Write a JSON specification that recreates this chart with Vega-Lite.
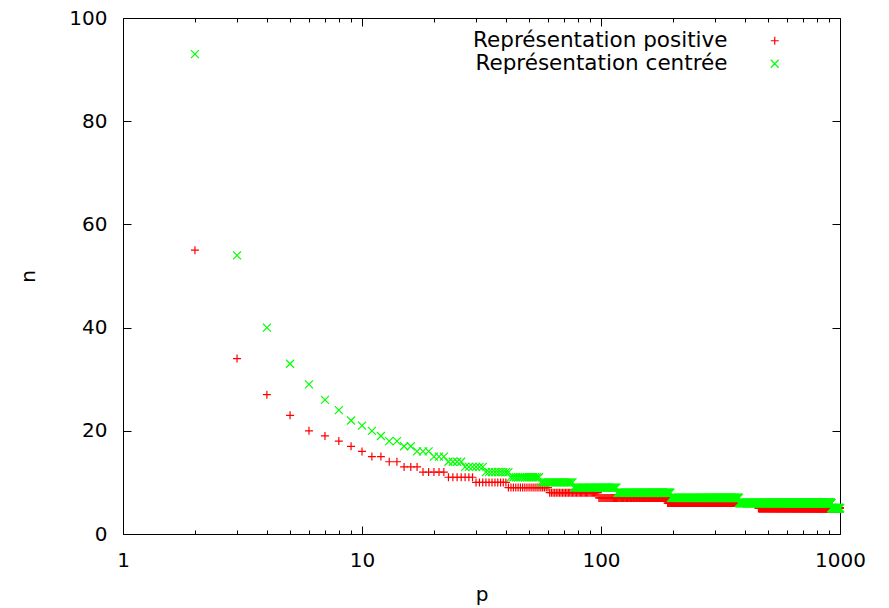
{
"$schema":"https://vega.github.io/schema/vega-lite/v6.json",
"width":717,"height":516,
"autosize":{"type":"none"},
"padding":{"left":123,"top":18,"right":49,"bottom":74},
"background":"white",
"config":{
"view":{"stroke":"black","strokeWidth":1},
"font":"DejaVu Sans",
"axis":{"labelFont":"DejaVu Sans","labelFontSize":20,"labelColor":"black","titleFont":"DejaVu Sans","titleFontSize":20,"titleFontWeight":"normal","titleColor":"black","domain":false,"grid":false,"tickColor":"black","tickWidth":1,"labelFlush":false,"labelOverlap":false,"labelBound":false},
"legend":{"orient":"none","legendX":641,"legendY":12,"labelAlign":"right","labelOffset":-58,"labelFont":"DejaVu Sans","labelFontSize":21.5,"labelColor":"black","labelLimit":500,"symbolSize":64,"symbolStrokeWidth":1.2,"rowPadding":0,"padding":0,"title":null}
},
"data":{"values":[
{"p":2,"a":55,"b":93},{"p":3,"a":34,"b":54},{"p":4,"a":27,"b":40},{"p":5,"a":23,"b":33},{"p":6,"a":20,"b":29},{"p":7,"a":19,"b":26},{"p":8,"a":18,"b":24},{"p":9,"a":17,"b":22},{"p":10,"a":16,"b":21},{"p":11,"a":15,"b":20},{"p":12,"a":15,"b":19},{"p":13,"a":14,"b":18},{"p":14,"a":14,"b":18},{"p":15,"a":13,"b":17},{"p":16,"a":13,"b":17},{"p":17,"a":13,"b":16},{"p":18,"a":12,"b":16},{"p":19,"a":12,"b":16},{"p":20,"a":12,"b":15},{"p":21,"a":12,"b":15},{"p":22,"a":12,"b":15},
{"p":23,"a":11,"b":14},{"p":24,"a":11,"b":14},{"p":25,"a":11,"b":14},{"p":26,"a":11,"b":14},
{"p":27,"a":11,"b":13},{"p":28,"a":11,"b":13},{"p":29,"a":11,"b":13},
{"p":30,"a":10,"b":13},{"p":31,"a":10,"b":13},{"p":32,"a":10,"b":13},
{"p":33,"a":10,"b":12},{"p":34,"a":10,"b":12},{"p":35,"a":10,"b":12},{"p":36,"a":10,"b":12},{"p":37,"a":10,"b":12},{"p":38,"a":10,"b":12},{"p":39,"a":10,"b":12},{"p":40,"a":10,"b":12},
{"p":41,"a":9,"b":12},
{"p":42,"a":9,"b":11},{"p":43,"a":9,"b":11},{"p":44,"a":9,"b":11},{"p":45,"a":9,"b":11},{"p":46,"a":9,"b":11},{"p":47,"a":9,"b":11},{"p":48,"a":9,"b":11},{"p":49,"a":9,"b":11},{"p":50,"a":9,"b":11},{"p":51,"a":9,"b":11},{"p":52,"a":9,"b":11},{"p":53,"a":9,"b":11},{"p":54,"a":9,"b":11},{"p":55,"a":9,"b":11},
{"p":56,"a":9,"b":10},{"p":57,"a":9,"b":10},{"p":58,"a":9,"b":10},{"p":59,"a":9,"b":10},{"p":60,"a":9,"b":10},
{"p":61,"a":8,"b":10},{"p":62,"a":8,"b":10},{"p":63,"a":8,"b":10},{"p":64,"a":8,"b":10},{"p":65,"a":8,"b":10},{"p":66,"a":8,"b":10},{"p":67,"a":8,"b":10},{"p":68,"a":8,"b":10},{"p":69,"a":8,"b":10},{"p":70,"a":8,"b":10},{"p":71,"a":8,"b":10},{"p":72,"a":8,"b":10},{"p":73,"a":8,"b":10},{"p":74,"a":8,"b":10},{"p":75,"a":8,"b":10},{"p":76,"a":8,"b":10},
{"p":77,"a":8,"b":9},{"p":78,"a":8,"b":9},{"p":79,"a":8,"b":9},{"p":80,"a":8,"b":9},{"p":81,"a":8,"b":9},{"p":82,"a":8,"b":9},{"p":83,"a":8,"b":9},{"p":84,"a":8,"b":9},{"p":85,"a":8,"b":9},{"p":86,"a":8,"b":9},{"p":87,"a":8,"b":9},{"p":88,"a":8,"b":9},{"p":89,"a":8,"b":9},{"p":90,"a":8,"b":9},{"p":91,"a":8,"b":9},{"p":92,"a":8,"b":9},{"p":93,"a":8,"b":9},{"p":94,"a":8,"b":9},{"p":95,"a":8,"b":9},{"p":96,"a":8,"b":9},{"p":97,"a":8,"b":9},
{"p":98,"a":7,"b":9},{"p":99,"a":7,"b":9},{"p":100,"a":7,"b":9},{"p":101,"a":7,"b":9},{"p":102,"a":7,"b":9},{"p":103,"a":7,"b":9},{"p":104,"a":7,"b":9},{"p":105,"a":7,"b":9},{"p":106,"a":7,"b":9},{"p":107,"a":7,"b":9},{"p":108,"a":7,"b":9},{"p":109,"a":7,"b":9},{"p":110,"a":7,"b":9},{"p":111,"a":7,"b":9},{"p":112,"a":7,"b":9},{"p":113,"a":7,"b":9},{"p":114,"a":7,"b":9},{"p":115,"a":7,"b":9},{"p":116,"a":7,"b":9},
{"p":117,"a":7,"b":8},{"p":118,"a":7,"b":8},{"p":119,"a":7,"b":8},{"p":120,"a":7,"b":8},{"p":121,"a":7,"b":8},{"p":122,"a":7,"b":8},{"p":123,"a":7,"b":8},{"p":124,"a":7,"b":8},{"p":125,"a":7,"b":8},{"p":126,"a":7,"b":8},{"p":127,"a":7,"b":8},{"p":128,"a":7,"b":8},{"p":129,"a":7,"b":8},{"p":130,"a":7,"b":8},{"p":131,"a":7,"b":8},{"p":132,"a":7,"b":8},{"p":133,"a":7,"b":8},{"p":134,"a":7,"b":8},{"p":135,"a":7,"b":8},{"p":136,"a":7,"b":8},{"p":137,"a":7,"b":8},{"p":138,"a":7,"b":8},{"p":139,"a":7,"b":8},{"p":140,"a":7,"b":8},{"p":141,"a":7,"b":8},{"p":142,"a":7,"b":8},{"p":143,"a":7,"b":8},{"p":144,"a":7,"b":8},{"p":145,"a":7,"b":8},{"p":146,"a":7,"b":8},{"p":147,"a":7,"b":8},{"p":148,"a":7,"b":8},{"p":149,"a":7,"b":8},{"p":150,"a":7,"b":8},{"p":151,"a":7,"b":8},{"p":152,"a":7,"b":8},{"p":153,"a":7,"b":8},{"p":154,"a":7,"b":8},{"p":155,"a":7,"b":8},{"p":156,"a":7,"b":8},{"p":157,"a":7,"b":8},{"p":158,"a":7,"b":8},{"p":159,"a":7,"b":8},{"p":160,"a":7,"b":8},{"p":161,"a":7,"b":8},{"p":162,"a":7,"b":8},{"p":163,"a":7,"b":8},{"p":164,"a":7,"b":8},{"p":165,"a":7,"b":8},{"p":166,"a":7,"b":8},{"p":167,"a":7,"b":8},{"p":168,"a":7,"b":8},{"p":169,"a":7,"b":8},{"p":170,"a":7,"b":8},{"p":171,"a":7,"b":8},{"p":172,"a":7,"b":8},{"p":173,"a":7,"b":8},{"p":174,"a":7,"b":8},{"p":175,"a":7,"b":8},{"p":176,"a":7,"b":8},{"p":177,"a":7,"b":8},{"p":178,"a":7,"b":8},{"p":179,"a":7,"b":8},{"p":180,"a":7,"b":8},{"p":181,"a":7,"b":8},{"p":182,"a":7,"b":8},{"p":183,"a":7,"b":8},{"p":184,"a":7,"b":8},{"p":185,"a":7,"b":8},{"p":186,"a":7,"b":8},{"p":187,"a":7,"b":8},{"p":188,"a":7,"b":8},{"p":189,"a":7,"b":8},
{"p":190,"a":6,"b":8},{"p":191,"a":6,"b":8},{"p":192,"a":6,"b":8},{"p":193,"a":6,"b":8},{"p":194,"a":6,"b":8},{"p":195,"a":6,"b":8},
{"p":196,"a":6,"b":7},{"p":197,"a":6,"b":7},{"p":198,"a":6,"b":7},{"p":199,"a":6,"b":7},{"p":200,"a":6,"b":7},{"p":201,"a":6,"b":7},{"p":202,"a":6,"b":7},{"p":203,"a":6,"b":7},{"p":204,"a":6,"b":7},{"p":205,"a":6,"b":7},{"p":206,"a":6,"b":7},{"p":207,"a":6,"b":7},{"p":208,"a":6,"b":7},{"p":209,"a":6,"b":7},{"p":210,"a":6,"b":7},{"p":211,"a":6,"b":7},{"p":212,"a":6,"b":7},{"p":213,"a":6,"b":7},{"p":214,"a":6,"b":7},{"p":215,"a":6,"b":7},{"p":216,"a":6,"b":7},{"p":217,"a":6,"b":7},{"p":218,"a":6,"b":7},{"p":219,"a":6,"b":7},{"p":220,"a":6,"b":7},{"p":221,"a":6,"b":7},{"p":222,"a":6,"b":7},{"p":223,"a":6,"b":7},{"p":224,"a":6,"b":7},{"p":225,"a":6,"b":7},{"p":226,"a":6,"b":7},{"p":227,"a":6,"b":7},{"p":228,"a":6,"b":7},{"p":229,"a":6,"b":7},{"p":230,"a":6,"b":7},{"p":231,"a":6,"b":7},{"p":232,"a":6,"b":7},{"p":233,"a":6,"b":7},{"p":234,"a":6,"b":7},{"p":235,"a":6,"b":7},{"p":236,"a":6,"b":7},{"p":237,"a":6,"b":7},{"p":238,"a":6,"b":7},{"p":239,"a":6,"b":7},{"p":240,"a":6,"b":7},{"p":241,"a":6,"b":7},{"p":242,"a":6,"b":7},{"p":243,"a":6,"b":7},{"p":244,"a":6,"b":7},{"p":245,"a":6,"b":7},{"p":246,"a":6,"b":7},{"p":247,"a":6,"b":7},{"p":248,"a":6,"b":7},{"p":249,"a":6,"b":7},{"p":250,"a":6,"b":7},{"p":251,"a":6,"b":7},{"p":252,"a":6,"b":7},{"p":253,"a":6,"b":7},{"p":254,"a":6,"b":7},{"p":255,"a":6,"b":7},{"p":256,"a":6,"b":7},{"p":257,"a":6,"b":7},{"p":258,"a":6,"b":7},{"p":259,"a":6,"b":7},{"p":260,"a":6,"b":7},{"p":261,"a":6,"b":7},{"p":262,"a":6,"b":7},{"p":263,"a":6,"b":7},{"p":264,"a":6,"b":7},{"p":265,"a":6,"b":7},{"p":266,"a":6,"b":7},{"p":267,"a":6,"b":7},{"p":268,"a":6,"b":7},{"p":269,"a":6,"b":7},{"p":270,"a":6,"b":7},{"p":271,"a":6,"b":7},{"p":272,"a":6,"b":7},{"p":273,"a":6,"b":7},{"p":274,"a":6,"b":7},{"p":275,"a":6,"b":7},{"p":276,"a":6,"b":7},{"p":277,"a":6,"b":7},{"p":278,"a":6,"b":7},{"p":279,"a":6,"b":7},{"p":280,"a":6,"b":7},{"p":281,"a":6,"b":7},{"p":282,"a":6,"b":7},{"p":283,"a":6,"b":7},{"p":284,"a":6,"b":7},{"p":285,"a":6,"b":7},{"p":286,"a":6,"b":7},{"p":287,"a":6,"b":7},{"p":288,"a":6,"b":7},{"p":289,"a":6,"b":7},{"p":290,"a":6,"b":7},{"p":291,"a":6,"b":7},{"p":292,"a":6,"b":7},{"p":293,"a":6,"b":7},{"p":294,"a":6,"b":7},{"p":295,"a":6,"b":7},{"p":296,"a":6,"b":7},{"p":297,"a":6,"b":7},{"p":298,"a":6,"b":7},{"p":299,"a":6,"b":7},{"p":300,"a":6,"b":7},{"p":301,"a":6,"b":7},{"p":302,"a":6,"b":7},{"p":303,"a":6,"b":7},{"p":304,"a":6,"b":7},{"p":305,"a":6,"b":7},{"p":306,"a":6,"b":7},{"p":307,"a":6,"b":7},{"p":308,"a":6,"b":7},{"p":309,"a":6,"b":7},{"p":310,"a":6,"b":7},{"p":311,"a":6,"b":7},{"p":312,"a":6,"b":7},{"p":313,"a":6,"b":7},{"p":314,"a":6,"b":7},{"p":315,"a":6,"b":7},{"p":316,"a":6,"b":7},{"p":317,"a":6,"b":7},{"p":318,"a":6,"b":7},{"p":319,"a":6,"b":7},{"p":320,"a":6,"b":7},{"p":321,"a":6,"b":7},{"p":322,"a":6,"b":7},{"p":323,"a":6,"b":7},{"p":324,"a":6,"b":7},{"p":325,"a":6,"b":7},{"p":326,"a":6,"b":7},{"p":327,"a":6,"b":7},{"p":328,"a":6,"b":7},{"p":329,"a":6,"b":7},{"p":330,"a":6,"b":7},{"p":331,"a":6,"b":7},{"p":332,"a":6,"b":7},{"p":333,"a":6,"b":7},{"p":334,"a":6,"b":7},{"p":335,"a":6,"b":7},{"p":336,"a":6,"b":7},{"p":337,"a":6,"b":7},{"p":338,"a":6,"b":7},{"p":339,"a":6,"b":7},{"p":340,"a":6,"b":7},{"p":341,"a":6,"b":7},{"p":342,"a":6,"b":7},{"p":343,"a":6,"b":7},{"p":344,"a":6,"b":7},{"p":345,"a":6,"b":7},{"p":346,"a":6,"b":7},{"p":347,"a":6,"b":7},{"p":348,"a":6,"b":7},{"p":349,"a":6,"b":7},{"p":350,"a":6,"b":7},{"p":351,"a":6,"b":7},{"p":352,"a":6,"b":7},{"p":353,"a":6,"b":7},{"p":354,"a":6,"b":7},{"p":355,"a":6,"b":7},{"p":356,"a":6,"b":7},{"p":357,"a":6,"b":7},{"p":358,"a":6,"b":7},{"p":359,"a":6,"b":7},{"p":360,"a":6,"b":7},{"p":361,"a":6,"b":7},{"p":362,"a":6,"b":7},{"p":363,"a":6,"b":7},{"p":364,"a":6,"b":7},{"p":365,"a":6,"b":7},{"p":366,"a":6,"b":7},{"p":367,"a":6,"b":7},{"p":368,"a":6,"b":7},{"p":369,"a":6,"b":7},{"p":370,"a":6,"b":7},{"p":371,"a":6,"b":7},{"p":372,"a":6,"b":7},{"p":373,"a":6,"b":7},{"p":374,"a":6,"b":7},{"p":375,"a":6,"b":7},{"p":376,"a":6,"b":7},{"p":377,"a":6,"b":7},
{"p":378,"a":6,"b":6},{"p":379,"a":6,"b":6},{"p":380,"a":6,"b":6},{"p":381,"a":6,"b":6},{"p":382,"a":6,"b":6},{"p":383,"a":6,"b":6},{"p":384,"a":6,"b":6},{"p":385,"a":6,"b":6},{"p":386,"a":6,"b":6},{"p":387,"a":6,"b":6},{"p":388,"a":6,"b":6},{"p":389,"a":6,"b":6},{"p":390,"a":6,"b":6},{"p":391,"a":6,"b":6},{"p":392,"a":6,"b":6},{"p":393,"a":6,"b":6},{"p":394,"a":6,"b":6},{"p":395,"a":6,"b":6},{"p":396,"a":6,"b":6},{"p":397,"a":6,"b":6},{"p":398,"a":6,"b":6},{"p":399,"a":6,"b":6},{"p":400,"a":6,"b":6},{"p":401,"a":6,"b":6},{"p":402,"a":6,"b":6},{"p":403,"a":6,"b":6},{"p":404,"a":6,"b":6},{"p":405,"a":6,"b":6},{"p":406,"a":6,"b":6},{"p":407,"a":6,"b":6},{"p":408,"a":6,"b":6},{"p":409,"a":6,"b":6},{"p":410,"a":6,"b":6},{"p":411,"a":6,"b":6},{"p":412,"a":6,"b":6},{"p":413,"a":6,"b":6},{"p":414,"a":6,"b":6},{"p":415,"a":6,"b":6},{"p":416,"a":6,"b":6},{"p":417,"a":6,"b":6},{"p":418,"a":6,"b":6},{"p":419,"a":6,"b":6},{"p":420,"a":6,"b":6},{"p":421,"a":6,"b":6},{"p":422,"a":6,"b":6},{"p":423,"a":6,"b":6},{"p":424,"a":6,"b":6},{"p":425,"a":6,"b":6},{"p":426,"a":6,"b":6},{"p":427,"a":6,"b":6},{"p":428,"a":6,"b":6},{"p":429,"a":6,"b":6},{"p":430,"a":6,"b":6},{"p":431,"a":6,"b":6},{"p":432,"a":6,"b":6},{"p":433,"a":6,"b":6},{"p":434,"a":6,"b":6},{"p":435,"a":6,"b":6},{"p":436,"a":6,"b":6},{"p":437,"a":6,"b":6},{"p":438,"a":6,"b":6},{"p":439,"a":6,"b":6},{"p":440,"a":6,"b":6},{"p":441,"a":6,"b":6},{"p":442,"a":6,"b":6},{"p":443,"a":6,"b":6},{"p":444,"a":6,"b":6},{"p":445,"a":6,"b":6},{"p":446,"a":6,"b":6},{"p":447,"a":6,"b":6},{"p":448,"a":6,"b":6},{"p":449,"a":6,"b":6},{"p":450,"a":6,"b":6},{"p":451,"a":6,"b":6},{"p":452,"a":6,"b":6},{"p":453,"a":6,"b":6},{"p":454,"a":6,"b":6},{"p":455,"a":6,"b":6},
{"p":456,"a":5,"b":6},{"p":457,"a":5,"b":6},{"p":458,"a":5,"b":6},{"p":459,"a":5,"b":6},{"p":460,"a":5,"b":6},{"p":461,"a":5,"b":6},{"p":462,"a":5,"b":6},{"p":463,"a":5,"b":6},{"p":464,"a":5,"b":6},{"p":465,"a":5,"b":6},{"p":466,"a":5,"b":6},{"p":467,"a":5,"b":6},{"p":468,"a":5,"b":6},{"p":469,"a":5,"b":6},{"p":470,"a":5,"b":6},{"p":471,"a":5,"b":6},{"p":472,"a":5,"b":6},{"p":473,"a":5,"b":6},{"p":474,"a":5,"b":6},{"p":475,"a":5,"b":6},{"p":476,"a":5,"b":6},{"p":477,"a":5,"b":6},{"p":478,"a":5,"b":6},{"p":479,"a":5,"b":6},{"p":480,"a":5,"b":6},{"p":481,"a":5,"b":6},{"p":482,"a":5,"b":6},{"p":483,"a":5,"b":6},{"p":484,"a":5,"b":6},{"p":485,"a":5,"b":6},{"p":486,"a":5,"b":6},{"p":487,"a":5,"b":6},{"p":488,"a":5,"b":6},{"p":489,"a":5,"b":6},{"p":490,"a":5,"b":6},{"p":491,"a":5,"b":6},{"p":492,"a":5,"b":6},{"p":493,"a":5,"b":6},{"p":494,"a":5,"b":6},{"p":495,"a":5,"b":6},{"p":496,"a":5,"b":6},{"p":497,"a":5,"b":6},{"p":498,"a":5,"b":6},{"p":499,"a":5,"b":6},{"p":500,"a":5,"b":6},{"p":501,"a":5,"b":6},{"p":502,"a":5,"b":6},{"p":503,"a":5,"b":6},{"p":504,"a":5,"b":6},{"p":505,"a":5,"b":6},{"p":506,"a":5,"b":6},{"p":507,"a":5,"b":6},{"p":508,"a":5,"b":6},{"p":509,"a":5,"b":6},{"p":510,"a":5,"b":6},{"p":511,"a":5,"b":6},{"p":512,"a":5,"b":6},{"p":513,"a":5,"b":6},{"p":514,"a":5,"b":6},{"p":515,"a":5,"b":6},{"p":516,"a":5,"b":6},{"p":517,"a":5,"b":6},{"p":518,"a":5,"b":6},{"p":519,"a":5,"b":6},{"p":520,"a":5,"b":6},{"p":521,"a":5,"b":6},{"p":522,"a":5,"b":6},{"p":523,"a":5,"b":6},{"p":524,"a":5,"b":6},{"p":525,"a":5,"b":6},{"p":526,"a":5,"b":6},{"p":527,"a":5,"b":6},{"p":528,"a":5,"b":6},{"p":529,"a":5,"b":6},{"p":530,"a":5,"b":6},{"p":531,"a":5,"b":6},{"p":532,"a":5,"b":6},{"p":533,"a":5,"b":6},{"p":534,"a":5,"b":6},{"p":535,"a":5,"b":6},{"p":536,"a":5,"b":6},{"p":537,"a":5,"b":6},{"p":538,"a":5,"b":6},{"p":539,"a":5,"b":6},{"p":540,"a":5,"b":6},{"p":541,"a":5,"b":6},{"p":542,"a":5,"b":6},{"p":543,"a":5,"b":6},{"p":544,"a":5,"b":6},{"p":545,"a":5,"b":6},{"p":546,"a":5,"b":6},{"p":547,"a":5,"b":6},{"p":548,"a":5,"b":6},{"p":549,"a":5,"b":6},{"p":550,"a":5,"b":6},{"p":551,"a":5,"b":6},{"p":552,"a":5,"b":6},{"p":553,"a":5,"b":6},{"p":554,"a":5,"b":6},{"p":555,"a":5,"b":6},{"p":556,"a":5,"b":6},{"p":557,"a":5,"b":6},{"p":558,"a":5,"b":6},{"p":559,"a":5,"b":6},{"p":560,"a":5,"b":6},{"p":561,"a":5,"b":6},{"p":562,"a":5,"b":6},{"p":563,"a":5,"b":6},{"p":564,"a":5,"b":6},{"p":565,"a":5,"b":6},{"p":566,"a":5,"b":6},{"p":567,"a":5,"b":6},{"p":568,"a":5,"b":6},{"p":569,"a":5,"b":6},{"p":570,"a":5,"b":6},{"p":571,"a":5,"b":6},{"p":572,"a":5,"b":6},{"p":573,"a":5,"b":6},{"p":574,"a":5,"b":6},{"p":575,"a":5,"b":6},{"p":576,"a":5,"b":6},{"p":577,"a":5,"b":6},{"p":578,"a":5,"b":6},{"p":579,"a":5,"b":6},{"p":580,"a":5,"b":6},{"p":581,"a":5,"b":6},{"p":582,"a":5,"b":6},{"p":583,"a":5,"b":6},{"p":584,"a":5,"b":6},{"p":585,"a":5,"b":6},{"p":586,"a":5,"b":6},{"p":587,"a":5,"b":6},{"p":588,"a":5,"b":6},{"p":589,"a":5,"b":6},{"p":590,"a":5,"b":6},{"p":591,"a":5,"b":6},{"p":592,"a":5,"b":6},{"p":593,"a":5,"b":6},{"p":594,"a":5,"b":6},{"p":595,"a":5,"b":6},{"p":596,"a":5,"b":6},{"p":597,"a":5,"b":6},{"p":598,"a":5,"b":6},{"p":599,"a":5,"b":6},{"p":600,"a":5,"b":6},{"p":601,"a":5,"b":6},{"p":602,"a":5,"b":6},{"p":603,"a":5,"b":6},{"p":604,"a":5,"b":6},{"p":605,"a":5,"b":6},{"p":606,"a":5,"b":6},{"p":607,"a":5,"b":6},{"p":608,"a":5,"b":6},{"p":609,"a":5,"b":6},{"p":610,"a":5,"b":6},{"p":611,"a":5,"b":6},{"p":612,"a":5,"b":6},{"p":613,"a":5,"b":6},{"p":614,"a":5,"b":6},{"p":615,"a":5,"b":6},{"p":616,"a":5,"b":6},{"p":617,"a":5,"b":6},{"p":618,"a":5,"b":6},{"p":619,"a":5,"b":6},{"p":620,"a":5,"b":6},{"p":621,"a":5,"b":6},{"p":622,"a":5,"b":6},{"p":623,"a":5,"b":6},{"p":624,"a":5,"b":6},{"p":625,"a":5,"b":6},{"p":626,"a":5,"b":6},{"p":627,"a":5,"b":6},{"p":628,"a":5,"b":6},{"p":629,"a":5,"b":6},{"p":630,"a":5,"b":6},{"p":631,"a":5,"b":6},{"p":632,"a":5,"b":6},{"p":633,"a":5,"b":6},{"p":634,"a":5,"b":6},{"p":635,"a":5,"b":6},{"p":636,"a":5,"b":6},{"p":637,"a":5,"b":6},{"p":638,"a":5,"b":6},{"p":639,"a":5,"b":6},{"p":640,"a":5,"b":6},{"p":641,"a":5,"b":6},{"p":642,"a":5,"b":6},{"p":643,"a":5,"b":6},{"p":644,"a":5,"b":6},{"p":645,"a":5,"b":6},{"p":646,"a":5,"b":6},{"p":647,"a":5,"b":6},{"p":648,"a":5,"b":6},{"p":649,"a":5,"b":6},{"p":650,"a":5,"b":6},{"p":651,"a":5,"b":6},{"p":652,"a":5,"b":6},{"p":653,"a":5,"b":6},{"p":654,"a":5,"b":6},{"p":655,"a":5,"b":6},{"p":656,"a":5,"b":6},{"p":657,"a":5,"b":6},{"p":658,"a":5,"b":6},{"p":659,"a":5,"b":6},{"p":660,"a":5,"b":6},{"p":661,"a":5,"b":6},{"p":662,"a":5,"b":6},{"p":663,"a":5,"b":6},{"p":664,"a":5,"b":6},{"p":665,"a":5,"b":6},{"p":666,"a":5,"b":6},{"p":667,"a":5,"b":6},{"p":668,"a":5,"b":6},{"p":669,"a":5,"b":6},{"p":670,"a":5,"b":6},{"p":671,"a":5,"b":6},{"p":672,"a":5,"b":6},{"p":673,"a":5,"b":6},{"p":674,"a":5,"b":6},{"p":675,"a":5,"b":6},{"p":676,"a":5,"b":6},{"p":677,"a":5,"b":6},{"p":678,"a":5,"b":6},{"p":679,"a":5,"b":6},{"p":680,"a":5,"b":6},{"p":681,"a":5,"b":6},{"p":682,"a":5,"b":6},{"p":683,"a":5,"b":6},{"p":684,"a":5,"b":6},{"p":685,"a":5,"b":6},{"p":686,"a":5,"b":6},{"p":687,"a":5,"b":6},{"p":688,"a":5,"b":6},{"p":689,"a":5,"b":6},{"p":690,"a":5,"b":6},{"p":691,"a":5,"b":6},{"p":692,"a":5,"b":6},{"p":693,"a":5,"b":6},{"p":694,"a":5,"b":6},{"p":695,"a":5,"b":6},{"p":696,"a":5,"b":6},{"p":697,"a":5,"b":6},{"p":698,"a":5,"b":6},{"p":699,"a":5,"b":6},{"p":700,"a":5,"b":6},{"p":701,"a":5,"b":6},{"p":702,"a":5,"b":6},{"p":703,"a":5,"b":6},{"p":704,"a":5,"b":6},{"p":705,"a":5,"b":6},{"p":706,"a":5,"b":6},{"p":707,"a":5,"b":6},{"p":708,"a":5,"b":6},{"p":709,"a":5,"b":6},{"p":710,"a":5,"b":6},{"p":711,"a":5,"b":6},{"p":712,"a":5,"b":6},{"p":713,"a":5,"b":6},{"p":714,"a":5,"b":6},{"p":715,"a":5,"b":6},{"p":716,"a":5,"b":6},{"p":717,"a":5,"b":6},{"p":718,"a":5,"b":6},{"p":719,"a":5,"b":6},{"p":720,"a":5,"b":6},{"p":721,"a":5,"b":6},{"p":722,"a":5,"b":6},{"p":723,"a":5,"b":6},{"p":724,"a":5,"b":6},{"p":725,"a":5,"b":6},{"p":726,"a":5,"b":6},{"p":727,"a":5,"b":6},{"p":728,"a":5,"b":6},{"p":729,"a":5,"b":6},{"p":730,"a":5,"b":6},{"p":731,"a":5,"b":6},{"p":732,"a":5,"b":6},{"p":733,"a":5,"b":6},{"p":734,"a":5,"b":6},{"p":735,"a":5,"b":6},{"p":736,"a":5,"b":6},{"p":737,"a":5,"b":6},{"p":738,"a":5,"b":6},{"p":739,"a":5,"b":6},{"p":740,"a":5,"b":6},{"p":741,"a":5,"b":6},{"p":742,"a":5,"b":6},{"p":743,"a":5,"b":6},{"p":744,"a":5,"b":6},{"p":745,"a":5,"b":6},{"p":746,"a":5,"b":6},{"p":747,"a":5,"b":6},{"p":748,"a":5,"b":6},{"p":749,"a":5,"b":6},{"p":750,"a":5,"b":6},{"p":751,"a":5,"b":6},{"p":752,"a":5,"b":6},{"p":753,"a":5,"b":6},{"p":754,"a":5,"b":6},{"p":755,"a":5,"b":6},{"p":756,"a":5,"b":6},{"p":757,"a":5,"b":6},{"p":758,"a":5,"b":6},{"p":759,"a":5,"b":6},{"p":760,"a":5,"b":6},{"p":761,"a":5,"b":6},{"p":762,"a":5,"b":6},{"p":763,"a":5,"b":6},{"p":764,"a":5,"b":6},{"p":765,"a":5,"b":6},{"p":766,"a":5,"b":6},{"p":767,"a":5,"b":6},{"p":768,"a":5,"b":6},{"p":769,"a":5,"b":6},{"p":770,"a":5,"b":6},{"p":771,"a":5,"b":6},{"p":772,"a":5,"b":6},{"p":773,"a":5,"b":6},{"p":774,"a":5,"b":6},{"p":775,"a":5,"b":6},{"p":776,"a":5,"b":6},{"p":777,"a":5,"b":6},{"p":778,"a":5,"b":6},{"p":779,"a":5,"b":6},{"p":780,"a":5,"b":6},{"p":781,"a":5,"b":6},{"p":782,"a":5,"b":6},{"p":783,"a":5,"b":6},{"p":784,"a":5,"b":6},{"p":785,"a":5,"b":6},{"p":786,"a":5,"b":6},{"p":787,"a":5,"b":6},{"p":788,"a":5,"b":6},{"p":789,"a":5,"b":6},{"p":790,"a":5,"b":6},{"p":791,"a":5,"b":6},{"p":792,"a":5,"b":6},{"p":793,"a":5,"b":6},{"p":794,"a":5,"b":6},{"p":795,"a":5,"b":6},{"p":796,"a":5,"b":6},{"p":797,"a":5,"b":6},{"p":798,"a":5,"b":6},{"p":799,"a":5,"b":6},{"p":800,"a":5,"b":6},{"p":801,"a":5,"b":6},{"p":802,"a":5,"b":6},{"p":803,"a":5,"b":6},{"p":804,"a":5,"b":6},{"p":805,"a":5,"b":6},{"p":806,"a":5,"b":6},{"p":807,"a":5,"b":6},{"p":808,"a":5,"b":6},{"p":809,"a":5,"b":6},{"p":810,"a":5,"b":6},{"p":811,"a":5,"b":6},{"p":812,"a":5,"b":6},{"p":813,"a":5,"b":6},{"p":814,"a":5,"b":6},{"p":815,"a":5,"b":6},{"p":816,"a":5,"b":6},{"p":817,"a":5,"b":6},{"p":818,"a":5,"b":6},{"p":819,"a":5,"b":6},{"p":820,"a":5,"b":6},{"p":821,"a":5,"b":6},{"p":822,"a":5,"b":6},{"p":823,"a":5,"b":6},{"p":824,"a":5,"b":6},{"p":825,"a":5,"b":6},{"p":826,"a":5,"b":6},{"p":827,"a":5,"b":6},{"p":828,"a":5,"b":6},{"p":829,"a":5,"b":6},{"p":830,"a":5,"b":6},{"p":831,"a":5,"b":6},{"p":832,"a":5,"b":6},{"p":833,"a":5,"b":6},{"p":834,"a":5,"b":6},{"p":835,"a":5,"b":6},{"p":836,"a":5,"b":6},{"p":837,"a":5,"b":6},{"p":838,"a":5,"b":6},{"p":839,"a":5,"b":6},{"p":840,"a":5,"b":6},{"p":841,"a":5,"b":6},{"p":842,"a":5,"b":6},{"p":843,"a":5,"b":6},{"p":844,"a":5,"b":6},{"p":845,"a":5,"b":6},{"p":846,"a":5,"b":6},{"p":847,"a":5,"b":6},{"p":848,"a":5,"b":6},{"p":849,"a":5,"b":6},{"p":850,"a":5,"b":6},{"p":851,"a":5,"b":6},{"p":852,"a":5,"b":6},{"p":853,"a":5,"b":6},{"p":854,"a":5,"b":6},{"p":855,"a":5,"b":6},{"p":856,"a":5,"b":6},{"p":857,"a":5,"b":6},{"p":858,"a":5,"b":6},{"p":859,"a":5,"b":6},{"p":860,"a":5,"b":6},{"p":861,"a":5,"b":6},{"p":862,"a":5,"b":6},{"p":863,"a":5,"b":6},{"p":864,"a":5,"b":6},{"p":865,"a":5,"b":6},{"p":866,"a":5,"b":6},{"p":867,"a":5,"b":6},{"p":868,"a":5,"b":6},{"p":869,"a":5,"b":6},{"p":870,"a":5,"b":6},{"p":871,"a":5,"b":6},{"p":872,"a":5,"b":6},{"p":873,"a":5,"b":6},{"p":874,"a":5,"b":6},{"p":875,"a":5,"b":6},{"p":876,"a":5,"b":6},{"p":877,"a":5,"b":6},{"p":878,"a":5,"b":6},{"p":879,"a":5,"b":6},{"p":880,"a":5,"b":6},{"p":881,"a":5,"b":6},{"p":882,"a":5,"b":6},{"p":883,"a":5,"b":6},{"p":884,"a":5,"b":6},{"p":885,"a":5,"b":6},{"p":886,"a":5,"b":6},{"p":887,"a":5,"b":6},{"p":888,"a":5,"b":6},{"p":889,"a":5,"b":6},{"p":890,"a":5,"b":6},{"p":891,"a":5,"b":6},{"p":892,"a":5,"b":6},{"p":893,"a":5,"b":6},{"p":894,"a":5,"b":6},{"p":895,"a":5,"b":6},{"p":896,"a":5,"b":6},{"p":897,"a":5,"b":6},{"p":898,"a":5,"b":6},{"p":899,"a":5,"b":6},{"p":900,"a":5,"b":6},{"p":901,"a":5,"b":6},{"p":902,"a":5,"b":6},{"p":903,"a":5,"b":6},{"p":904,"a":5,"b":6},{"p":905,"a":5,"b":6},{"p":906,"a":5,"b":6},{"p":907,"a":5,"b":6},{"p":908,"a":5,"b":6},{"p":909,"a":5,"b":6},{"p":910,"a":5,"b":6},{"p":911,"a":5,"b":6},{"p":912,"a":5,"b":6},{"p":913,"a":5,"b":6},{"p":914,"a":5,"b":6},{"p":915,"a":5,"b":6},{"p":916,"a":5,"b":6},{"p":917,"a":5,"b":6},{"p":918,"a":5,"b":6},{"p":919,"a":5,"b":6},
{"p":920,"a":5,"b":5},{"p":921,"a":5,"b":5},{"p":922,"a":5,"b":5},{"p":923,"a":5,"b":5},{"p":924,"a":5,"b":5},{"p":925,"a":5,"b":5},{"p":926,"a":5,"b":5},{"p":927,"a":5,"b":5},{"p":928,"a":5,"b":5},{"p":929,"a":5,"b":5},{"p":930,"a":5,"b":5},{"p":931,"a":5,"b":5},{"p":932,"a":5,"b":5},{"p":933,"a":5,"b":5},{"p":934,"a":5,"b":5},{"p":935,"a":5,"b":5},{"p":936,"a":5,"b":5},{"p":937,"a":5,"b":5},{"p":938,"a":5,"b":5},{"p":939,"a":5,"b":5},{"p":940,"a":5,"b":5},{"p":941,"a":5,"b":5},{"p":942,"a":5,"b":5},{"p":943,"a":5,"b":5},{"p":944,"a":5,"b":5},{"p":945,"a":5,"b":5},{"p":946,"a":5,"b":5},{"p":947,"a":5,"b":5},{"p":948,"a":5,"b":5},{"p":949,"a":5,"b":5},{"p":950,"a":5,"b":5},{"p":951,"a":5,"b":5},{"p":952,"a":5,"b":5},{"p":953,"a":5,"b":5},{"p":954,"a":5,"b":5},{"p":955,"a":5,"b":5},{"p":956,"a":5,"b":5},{"p":957,"a":5,"b":5},{"p":958,"a":5,"b":5},{"p":959,"a":5,"b":5},{"p":960,"a":5,"b":5},{"p":961,"a":5,"b":5},{"p":962,"a":5,"b":5},{"p":963,"a":5,"b":5},{"p":964,"a":5,"b":5},{"p":965,"a":5,"b":5},{"p":966,"a":5,"b":5},{"p":967,"a":5,"b":5},{"p":968,"a":5,"b":5},{"p":969,"a":5,"b":5},{"p":970,"a":5,"b":5},{"p":971,"a":5,"b":5},{"p":972,"a":5,"b":5},{"p":973,"a":5,"b":5},{"p":974,"a":5,"b":5},{"p":975,"a":5,"b":5},{"p":976,"a":5,"b":5},{"p":977,"a":5,"b":5},{"p":978,"a":5,"b":5},{"p":979,"a":5,"b":5},{"p":980,"a":5,"b":5},{"p":981,"a":5,"b":5},{"p":982,"a":5,"b":5},{"p":983,"a":5,"b":5},{"p":984,"a":5,"b":5},{"p":985,"a":5,"b":5},{"p":986,"a":5,"b":5},{"p":987,"a":5,"b":5},{"p":988,"a":5,"b":5},{"p":989,"a":5,"b":5},{"p":990,"a":5,"b":5},{"p":991,"a":5,"b":5},{"p":992,"a":5,"b":5},{"p":993,"a":5,"b":5},{"p":994,"a":5,"b":5},{"p":995,"a":5,"b":5},{"p":996,"a":5,"b":5},{"p":997,"a":5,"b":5},{"p":998,"a":5,"b":5},{"p":999,"a":5,"b":5},{"p":1000,"a":5,"b":5}
]},
"layer":[
{"mark":{"type":"point","filled":false,"size":64,"strokeWidth":1.2,"opacity":1},
"encoding":{
"x":{"field":"p","type":"quantitative","scale":{"type":"log","domain":[1,1000],"nice":false},
"axis":{"orient":"bottom","title":"p","titlePadding":10,"values":[1,2,3,4,5,6,7,8,9,10,20,30,40,50,60,70,80,90,100,200,300,400,500,600,700,800,900,1000],
"labelExpr":"(datum.value == 1 || datum.value == 10 || datum.value == 100 || datum.value == 1000) ? ('' + datum.value) : ''",
"tickSize":{"condition":{"test":"datum.value == 1 || datum.value == 10 || datum.value == 100 || datum.value == 1000","value":-8},"value":-4},
"labelPadding":24}},
"y":{"field":"a","type":"quantitative","scale":{"domain":[0,100],"nice":false},
"axis":{"orient":"left","title":"n","titlePadding":30,"values":[0,20,40,60,80,100],"tickSize":-8,"labelPadding":24}},
"color":{"datum":"Représentation positive","type":"nominal","scale":{"domain":["Représentation positive","Représentation centrée"],"range":["#ff0000","#00ff00"]}},
"shape":{"datum":"Représentation positive","type":"nominal","scale":{"domain":["Représentation positive","Représentation centrée"],"range":["M-1,0L1,0M0,-1L0,1","M-1,-1L1,1M-1,1L1,-1"]}}
}},
{"mark":{"type":"point","filled":false,"size":64,"strokeWidth":1.2,"opacity":1},
"encoding":{
"x":{"field":"p","type":"quantitative","scale":{"type":"log","domain":[1,1000],"nice":false},
"axis":{"orient":"top","title":null,"labels":false,"values":[1,2,3,4,5,6,7,8,9,10,20,30,40,50,60,70,80,90,100,200,300,400,500,600,700,800,900,1000],
"tickSize":{"condition":{"test":"datum.value == 1 || datum.value == 10 || datum.value == 100 || datum.value == 1000","value":-8},"value":-4}}},
"y":{"field":"b","type":"quantitative","scale":{"domain":[0,100],"nice":false},
"axis":{"orient":"right","title":null,"labels":false,"values":[0,20,40,60,80,100],"tickSize":-8}},
"color":{"datum":"Représentation centrée","type":"nominal"},
"shape":{"datum":"Représentation centrée","type":"nominal"}
}}
]
}
